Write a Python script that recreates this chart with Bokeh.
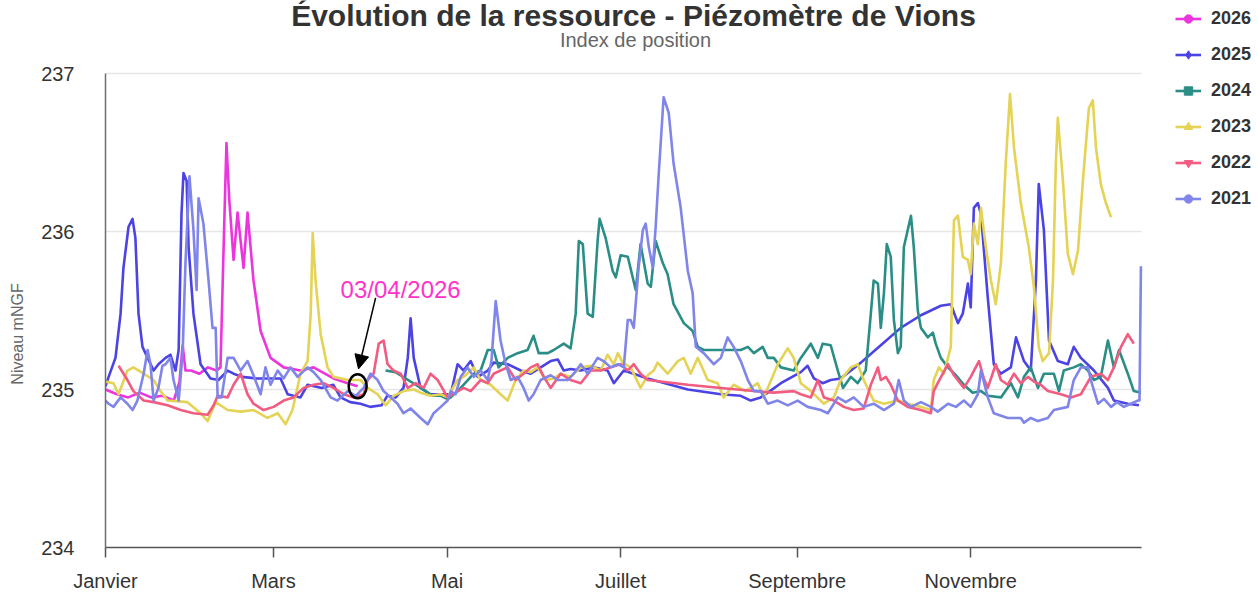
from bokeh.plotting import figure
from bokeh.models import (Range1d, FixedTicker, Legend, LegendItem, Label, Arrow,
                          NormalHead, BoxAnnotation)
from bokeh.embed import file_html
from bokeh.resources import INLINE

# ---------------- data (day of year, level in mNGF) ----------------
month_ticks = [0, 59, 120, 181, 243, 304]
month_labels = ["Janvier", "Mars", "Mai", "Juillet", "Septembre", "Novembre"]
level_ticks = [234, 235, 236, 237]
years = ["2026", "2025", "2024", "2023", "2022", "2021"]
year_end_day = 364

d2026 = [0, 4, 8, 12, 16, 20, 24,
         26, 27.1, 28.1, 30, 33, 36, 39,
         40.4, 41.5, 42.5, 43.5, 45.0, 46.4, 48.5, 49.9,
         52.0, 54.5, 58.0, 62.6, 68.5, 73.1, 80.1, 85.1, 88.6]
v2026 = [235.00, 234.97, 234.95, 234.98, 234.95, 234.96, 234.93,
         235.05, 235.28, 235.12, 235.12, 235.10, 235.14, 235.12,
         235.14, 235.90, 236.56, 236.20, 235.82, 236.12, 235.77, 236.12,
         235.69, 235.37, 235.20, 235.14, 235.12, 235.14, 235.07, 235.04, 235.02]

d2025 = [0, 1.1, 3.5, 5.3, 6.3, 8.1, 9.5, 10.5, 11.6, 13.0,
         14.8, 16.9, 18.6, 21.1, 22.8, 24.6, 25.7, 26.7, 27.4, 28.5,
         29.2, 30.9, 33.4, 36.9, 39.7, 42.9, 45.0, 48.0, 53.0, 57.0,
         61.5, 64.0, 68.5, 71.0, 76.0, 80.0, 82.6, 86.0, 89.6, 93.0,
         97.0, 99.0, 102.0, 104.7, 106.2, 107.2, 108.3, 110.7, 114.0, 118.0,
         121.3, 123.7, 125.8, 128.3, 130.8, 134.3, 136.4, 141.3, 145.9, 149.4,
         152.9, 156.4, 158.9, 161.0, 163.4, 167.0, 171.5, 176.4, 178.6, 182.1,
         190.5, 204.6, 216.2, 223.2, 226.7, 230.2, 232.7, 237.3, 244.3, 246.7,
         248.9, 252.0, 254.8, 258.3, 265.4, 272.4, 279.4, 286.5, 293.5, 297.0,
         299.5, 301.2, 303.0, 304.0, 305.1, 306.5, 307.6, 310.0, 312.1, 314.6,
         318.1, 319.9, 322.7, 325.1, 326.9, 327.9, 329.7, 331.5, 334.6, 338.1,
         340.2, 342.7, 347.3, 352.2, 354.3, 359.2, 363.1]
v2025 = [235.02, 235.08, 235.20, 235.48, 235.77, 236.03, 236.08, 235.96, 235.48, 235.27,
         235.20, 235.12, 235.16, 235.20, 235.22, 235.12, 235.25, 236.11, 236.37, 236.32,
         235.90, 235.48, 235.16, 235.07, 235.06, 235.12, 235.10, 235.08, 235.07, 235.07,
         235.07, 234.97, 234.95, 235.03, 235.01, 235.03, 234.95, 234.92, 234.91, 234.89,
         234.90, 234.96, 234.95, 235.01, 235.20, 235.45, 235.20, 235.01, 234.97, 234.97,
         234.97, 235.16, 235.12, 235.18, 235.08, 235.12, 235.17, 235.16, 235.12, 235.10,
         235.14, 235.18, 235.19, 235.12, 235.13, 235.12, 235.14, 235.12, 235.04, 235.12,
         235.07, 235.00, 234.97, 234.96, 234.93, 234.95, 234.98, 235.04, 235.11, 235.15,
         235.07, 235.04, 235.06, 235.07, 235.17, 235.28, 235.39, 235.47, 235.53, 235.54,
         235.42, 235.48, 235.67, 235.52, 236.15, 236.18, 236.11, 235.58, 235.16, 235.10,
         235.14, 235.33, 235.18, 235.12, 235.69, 236.30, 236.01, 235.31, 235.18, 235.16,
         235.27, 235.20, 235.12, 235.01, 234.93, 234.91, 234.90]

d2024 = [98.4, 101.9, 105.4, 109.0, 112.5, 114.9, 117.8, 120.2, 121.3, 124.8,
         129.4, 131.8, 134.3, 136.4, 138.1, 141.3, 144.8, 148.3, 150.4, 152.2,
         155.4, 157.5, 161.0, 163.4, 165.2, 166.3, 167.7, 169.4, 171.2, 172.9,
         173.6, 175.7, 178.2, 179.3, 181.0, 183.5, 186.3, 188.0, 190.5, 191.6,
         193.3, 195.8, 197.5, 199.6, 203.2, 206.3, 208.1, 210.2, 216.2, 223.2,
         225.7, 227.8, 230.9, 232.7, 234.8, 237.3, 241.8, 244.3, 247.8, 250.3,
         252.0, 254.8, 257.3, 259.1, 261.9, 264.3, 267.1, 268.9, 269.9, 271.4,
         272.4, 273.5, 274.5, 275.9, 277.0, 278.4, 279.4, 280.5, 283.0, 284.0,
         285.4, 286.5, 288.9, 290.7, 291.7, 293.5, 296.0, 298.8, 301.6, 304.7,
         307.6, 310.0, 314.6, 318.1, 320.6, 322.7, 325.1, 327.6, 329.7, 333.2,
         335.0, 336.7, 340.2, 342.7, 345.2, 347.3, 349.7, 352.2, 354.3, 356.1,
         359.2, 361.3, 363.8]
v2024 = [235.12, 235.11, 235.07, 235.03, 234.99, 234.96, 234.96, 234.94, 234.95, 235.01,
         235.10, 235.12, 235.25, 235.25, 235.14, 235.20, 235.23, 235.25, 235.34, 235.23,
         235.23, 235.25, 235.29, 235.26, 235.48, 235.94, 235.92, 235.48, 235.46, 235.94,
         236.08, 235.96, 235.75, 235.71, 235.85, 235.84, 235.63, 235.92, 235.67, 235.65,
         235.94, 235.80, 235.73, 235.54, 235.42, 235.37, 235.27, 235.25, 235.25, 235.25,
         235.27, 235.23, 235.27, 235.20, 235.20, 235.14, 235.12, 235.20, 235.29, 235.20,
         235.29, 235.28, 235.12, 235.01, 235.08, 235.04, 235.12, 235.48, 235.69, 235.67,
         235.39, 235.61, 235.92, 235.84, 235.44, 235.23, 235.27, 235.90, 236.10, 235.90,
         235.50, 235.39, 235.33, 235.36, 235.29, 235.20, 235.14, 235.09, 235.03, 234.98,
         234.99, 234.96, 234.95, 235.04, 234.95, 235.08, 235.14, 235.01, 235.10, 235.10,
         234.99, 235.12, 235.14, 235.16, 235.12, 235.06, 235.08, 235.31, 235.14, 235.25,
         235.10, 234.99, 234.98]

d2023 = [0, 2.8, 4.6, 7.7, 9.8, 13.4, 16.9, 19.3, 21.8, 28.8,
         33.4, 35.9, 38.7, 42.9, 47.5, 52.0, 56.9, 60.5, 63.3, 65.7,
         68.5, 71.0, 72.1, 72.8, 73.8, 75.6, 78.0, 80.1, 85.1, 89.6,
         92.1, 95.6, 98.4, 101.2, 104.7, 108.3, 110.7, 114.2, 117.8, 120.2,
         123.7, 126.5, 129.4, 131.8, 135.3, 138.8, 141.3, 144.1, 146.9, 149.4,
         151.8, 154.7, 157.5, 159.9, 163.4, 167.0, 170.5, 174.0, 176.4, 178.6,
         180.0, 181.7, 184.5, 188.0, 190.5, 192.6, 194.0, 197.5, 201.1, 203.2,
         205.6, 208.1, 211.6, 215.1, 217.2, 220.7, 224.9, 229.2, 231.3, 236.2,
         239.7, 241.8, 244.3, 247.8, 252.4, 255.9, 258.3, 261.9, 264.3, 266.4,
         269.9, 273.5, 278.4, 281.9, 286.5, 290.0, 291.0, 292.8, 294.6, 297.0,
         298.1, 299.5, 301.2, 303.0, 304.0, 305.1, 306.5, 307.6, 309.3, 311.1,
         312.8, 314.6, 316.3, 317.8, 319.2, 321.6, 324.4, 326.2, 327.9, 329.3,
         331.5, 332.9, 333.9, 334.6, 336.4, 338.1, 339.9, 341.7, 343.4, 345.5,
         346.9, 348.0, 349.7, 351.5, 353.3]
v2023 = [235.05, 235.04, 234.97, 235.12, 235.14, 235.10, 235.06, 234.99, 234.93, 234.92,
         234.85, 234.80, 234.92, 234.87, 234.86, 234.87, 234.82, 234.85, 234.78, 234.87,
         235.10, 235.18, 235.48, 235.99, 235.69, 235.35, 235.14, 235.08, 235.06, 235.06,
         235.01, 234.97, 234.90, 234.96, 234.99, 235.00, 234.98, 234.96, 234.97, 234.95,
         235.06, 235.09, 235.14, 235.06, 235.03, 234.97, 234.93, 235.06, 235.12, 235.11,
         235.14, 235.06, 235.07, 235.10, 235.08, 235.14, 235.15, 235.12, 235.22, 235.16,
         235.23, 235.17, 235.14, 235.01, 235.09, 235.12, 235.17, 235.10, 235.18, 235.20,
         235.10, 235.20, 235.06, 235.04, 234.95, 235.03, 234.99, 235.04, 234.95, 235.16,
         235.26, 235.20, 235.04, 234.99, 234.91, 234.95, 235.06, 235.14, 235.16, 235.06,
         234.93, 234.91, 234.93, 234.91, 234.89, 234.87, 235.06, 235.14, 235.10, 235.27,
         236.07, 236.10, 235.84, 235.82, 235.73, 236.05, 235.92, 236.15, 235.90, 235.69,
         235.54, 235.80, 236.43, 236.87, 236.53, 236.18, 235.90, 235.65, 235.27, 235.18,
         235.23, 235.69, 236.43, 236.72, 236.32, 235.86, 235.73, 235.88, 236.32, 236.78,
         236.83, 236.53, 236.30, 236.18, 236.09]

d2022 = [4.6, 7.7, 9.8, 13.4, 16.9, 21.8, 26.4, 30.9, 35.9, 38.0,
         39.4, 42.9, 45.0, 47.5, 49.9, 52.0, 55.5, 59.1, 62.6, 66.1,
         69.6, 73.1, 76.6, 80.1, 83.7, 87.2, 90.7, 92.1, 94.2, 96.0,
         97.7, 99.1, 101.2, 103.7, 106.2, 109.0, 111.8, 114.2, 116.7, 120.2,
         123.0, 125.8, 128.3, 131.8, 134.3, 136.4, 138.8, 141.3, 144.1, 146.9,
         149.4, 151.8, 154.0, 156.4, 159.9, 163.4, 167.0, 170.5, 174.0, 177.5,
         181.0, 183.5, 185.6, 188.0, 190.5, 204.6, 216.2, 227.8, 234.8, 241.8,
         244.3, 247.8, 250.3, 252.4, 255.9, 259.4, 262.9, 266.4, 268.9, 271.4,
         272.4, 274.2, 275.9, 278.4, 281.9, 286.5, 290.0, 291.0, 292.4, 296.0,
         298.1, 301.6, 304.0, 306.9, 308.6, 310.0, 312.8, 314.6, 317.0, 319.2,
         321.6, 324.1, 326.2, 328.6, 331.1, 335.7, 339.2, 342.7, 346.2, 349.7,
         352.2, 354.3, 356.8, 359.2, 361.3]
v2022 = [235.15, 235.06, 234.99, 234.93, 234.92, 234.90, 234.87, 234.85, 234.84, 234.90,
         234.96, 234.95, 235.03, 235.10, 234.97, 234.91, 234.87, 234.89, 234.93, 234.95,
         235.01, 235.03, 235.04, 235.01, 234.97, 234.95, 234.97, 235.06, 235.10, 235.29,
         235.31, 235.16, 235.12, 235.10, 235.01, 235.04, 235.01, 235.10, 235.06, 234.95,
         234.98, 235.01, 234.99, 235.06, 235.04, 235.10, 235.12, 235.14, 235.06, 235.10,
         235.14, 235.16, 235.08, 235.01, 235.10, 235.06, 235.04, 235.12, 235.12, 235.14,
         235.16, 235.12, 235.16, 235.10, 235.06, 235.03, 235.01, 234.99, 234.98, 234.99,
         234.97, 234.95, 235.06, 234.95, 234.93, 234.89, 234.87, 234.88, 235.03, 235.14,
         235.06, 235.08, 235.03, 234.93, 234.89, 234.87, 234.85, 234.99, 235.04, 235.16,
         235.09, 235.01, 235.08, 235.18, 235.07, 235.01, 235.16, 235.06, 235.03, 235.10,
         235.04, 235.08, 235.05, 235.03, 234.99, 234.97, 234.95, 234.97, 235.08, 235.10,
         235.06, 235.14, 235.27, 235.35, 235.29]

d2021 = [0, 1.1, 2.8, 5.3, 7.7, 9.5, 11.2, 13.4, 14.8, 15.8,
         16.9, 18.6, 20.0, 21.1, 22.8, 23.9, 25.7, 27.1, 28.1, 29.5,
         30.9, 32.0, 32.7, 34.4, 36.2, 37.6, 38.7, 39.4, 40.8, 42.9,
         45.0, 47.5, 49.9, 52.0, 54.5, 56.2, 58.0, 60.5, 62.6, 65.0,
         67.5, 71.0, 73.1, 75.6, 79.1, 81.5, 85.1, 87.9, 90.7, 93.1,
         95.6, 97.7, 100.2, 102.6, 104.7, 107.2, 110.7, 113.2, 115.3, 117.8,
         120.2, 121.3, 123.0, 124.8, 127.2, 129.4, 131.8, 134.3, 135.6, 137.1,
         138.8, 140.6, 142.4, 144.8, 146.9, 148.7, 150.4, 152.9, 156.4, 158.9,
         162.4, 164.5, 167.0, 169.4, 172.9, 175.0, 177.5, 180.0, 182.1, 183.5,
         184.5, 185.6, 187.3, 188.8, 189.8, 190.9, 192.3, 193.3, 194.4, 196.1,
         197.9, 199.6, 202.1, 204.6, 206.3, 207.4, 210.2, 213.7, 216.2, 218.6,
         220.7, 223.2, 225.7, 227.8, 230.2, 232.7, 236.2, 239.7, 243.2, 246.7,
         251.3, 253.8, 257.3, 260.1, 262.9, 266.4, 269.9, 273.5, 277.0, 278.7,
         280.5, 283.0, 286.5, 290.0, 292.4, 296.0, 298.8, 301.6, 304.0, 306.5,
         307.6, 310.0, 312.1, 317.0, 321.6, 322.7, 325.1, 327.6, 331.1, 333.2,
         338.1, 340.2, 342.7, 345.2, 346.2, 348.7, 350.8, 353.3, 355.4, 357.8,
         360.3, 362.7, 363.3, 363.8]
v2021 = [234.93, 234.91, 234.89, 234.95, 234.91, 234.87, 234.93, 235.10, 235.25, 235.16,
         234.93, 235.01, 235.15, 235.16, 235.20, 235.06, 234.93, 235.23, 235.80, 236.35,
         236.01, 235.63, 236.21, 236.05, 235.69, 235.39, 235.39, 234.95, 234.95, 235.20,
         235.20, 235.12, 235.18, 235.09, 234.97, 235.14, 235.03, 235.12, 235.07, 235.14,
         235.08, 235.14, 235.11, 235.06, 234.95, 234.93, 234.99, 234.96, 235.01, 235.10,
         235.06, 234.99, 234.95, 234.91, 234.85, 234.88, 234.82, 234.78, 234.85, 234.89,
         234.93, 234.99, 234.97, 235.08, 235.14, 235.08, 235.12, 235.06, 235.18, 235.56,
         235.31, 235.16, 235.06, 235.08, 235.01, 234.93, 234.97, 235.06, 235.09, 235.06,
         235.06, 235.10, 235.16, 235.10, 235.20, 235.18, 235.14, 235.16, 235.14, 235.44,
         235.44, 235.39, 235.77, 236.01, 236.05, 235.90, 235.77, 236.03, 236.37, 236.85,
         236.75, 236.43, 236.15, 235.75, 235.61, 235.27, 235.23, 235.16, 235.20, 235.33,
         235.27, 235.18, 235.06, 234.99, 234.99, 234.91, 234.93, 234.90, 234.93, 234.89,
         234.87, 234.85, 234.95, 234.92, 234.95, 234.89, 234.91, 234.87, 234.91, 235.06,
         234.93, 234.89, 234.92, 234.89, 234.86, 234.91, 234.89, 234.93, 234.89, 234.97,
         235.12, 234.95, 234.85, 234.82, 234.82, 234.79, 234.82, 234.80, 234.82, 234.87,
         234.89, 235.06, 235.14, 235.14, 235.06, 234.91, 234.94, 234.89, 234.92, 234.89,
         234.91, 234.93, 234.93, 235.78]

annotation_text = "03/04/2026"

# ---------------- style ----------------
FONT = "Liberation Sans"
series = [
    ("2026", d2026, v2026, "#ec35dc", "circle", 12),
    ("2025", d2025, v2025, "#4b43e3", "diamond", 14),
    ("2024", d2024, v2024, "#2a8e86", "square", 11),
    ("2023", d2023, v2023, "#e4d354", "triangle", 13),
    ("2022", d2022, v2022, "#f15c80", "inverted_triangle", 13),
    ("2021", d2021, v2021, "#8085e9", "circle", 12),
]

W, H = 1257, 596
FRAME_L, PLOT_R, FRAME_B = 105, 1141, 547      # pixel geometry of the chart area
PX_PER_UNIT = 158.0                            # vertical scale (px per metre)
y_top = level_ticks[0] + FRAME_B / PX_PER_UNIT # frame reaches the top of the canvas
x_right = year_end_day * (W - FRAME_L) / (PLOT_R - FRAME_L)  # frame reaches the right edge

p = figure(width=W, height=H, output_backend="svg", toolbar_location=None,
           x_range=Range1d(0, x_right), y_range=Range1d(level_ticks[0], y_top),
           min_border_left=FRAME_L, min_border_right=0, min_border_top=0,
           min_border_bottom=H - FRAME_B, title=None)
p.outline_line_color = None
p.background_fill_color = "white"
p.border_fill_color = "white"

# axes
p.xaxis.ticker = FixedTicker(ticks=month_ticks)
p.xaxis.bounds = (0, year_end_day)
p.xaxis.major_label_overrides = {t: l for t, l in zip(month_ticks, month_labels)}
p.xaxis.minor_tick_line_color = None
p.xaxis.major_tick_in = 0
p.xaxis.major_tick_out = 10
p.xaxis.major_tick_line_color = "#555555"
p.xaxis.major_tick_line_width = 1.5
p.xaxis.axis_line_color = "#555555"
p.xaxis.axis_line_width = 1.5
p.xaxis.major_label_standoff = 12
p.xaxis.major_label_text_font = FONT
p.xaxis.major_label_text_font_size = "20px"
p.xaxis.major_label_text_color = "#333333"

p.yaxis.ticker = FixedTicker(ticks=level_ticks)
p.yaxis.bounds = (level_ticks[0], level_ticks[-1])
p.yaxis.major_tick_line_color = None
p.yaxis.minor_tick_line_color = None
p.yaxis.axis_line_color = "#6e6e6e"
p.yaxis.axis_line_width = 1.5
p.yaxis.major_label_standoff = 25
p.yaxis.major_label_text_font = FONT
p.yaxis.major_label_text_font_size = "20px"
p.yaxis.major_label_text_color = "#333333"
p.yaxis.axis_label = "Niveau  mNGF" + "\u00a0" * 26
p.yaxis.axis_label_text_font = FONT
p.yaxis.axis_label_text_font_size = "16px"
p.yaxis.axis_label_text_font_style = "normal"
p.yaxis.axis_label_text_color = "#666666"
p.yaxis.axis_label_standoff = 12

p.xgrid.visible = False
p.ygrid.ticker = FixedTicker(ticks=level_ticks)
p.ygrid.grid_line_color = "#e6e6e6"
p.ygrid.grid_line_width = 1.5
# white mask so that grid lines stop at the end of the year (legend area stays blank)
p.add_layout(BoxAnnotation(left=year_end_day, fill_color="white", fill_alpha=1.0,
                           line_color=None, level="underlay"))

# series
items = []
for name, d, v, col, mk, sz in series:
    rl = p.line(d, v, line_color=col, line_width=2.6, line_join="round")
    rm = p.scatter(x=[d[-1]], y=[float("nan")], marker=mk, size=sz,
                   fill_color=col, line_color=col)
    items.append(LegendItem(label=name, renderers=[rl, rm]))

legend = Legend(items=items, location=(1070, 338), orientation="vertical",
                background_fill_alpha=0, border_line_color=None,
                label_text_font=FONT, label_text_font_size="18px",
                label_text_font_style="bold", label_text_color="#333333",
                glyph_width=26, glyph_height=21, label_height=21,
                label_standoff=10, spacing=15, padding=0, margin=0)
p.add_layout(legend)

# title & subtitle (screen units, measured from the frame's bottom-left)
p.add_layout(Label(x=528, y=FRAME_B - 15, x_units="screen", y_units="screen",
                   text="Évolution de la ressource - Piézomètre de Vions",
                   text_align="center", text_baseline="alphabetic",
                   text_font=FONT, text_font_size="30px", text_font_style="bold",
                   text_color="#333333"))
p.add_layout(Label(x=530, y=FRAME_B - 39, x_units="screen", y_units="screen",
                   text="Index de position", text_align="center",
                   text_baseline="alphabetic", text_font=FONT,
                   text_font_size="20px", text_color="#666666"))

# annotation on the last 2026 point
last_d, last_v = d2026[-1], v2026[-1]
p.ellipse(x=[last_d], y=[last_v], width=18, height=24, width_units="screen",
          height_units="screen", fill_color=None, line_color="black", line_width=2.5)
p.add_layout(Arrow(end=NormalHead(size=14, fill_color="black", line_color="black"),
                   x_start=last_d + 6.3, y_start=last_v + 0.56,
                   x_end=last_d + 0.3, y_end=last_v + 0.11,
                   line_color="black", line_width=1.5))
p.add_layout(Label(x=last_d - 6, y=last_v + 0.61, text=annotation_text,
                   text_align="left", text_baseline="alphabetic",
                   text_font=FONT, text_font_size="24px", text_color="#ff33cc"))

open("out.html", "w").write(file_html(p, INLINE))
